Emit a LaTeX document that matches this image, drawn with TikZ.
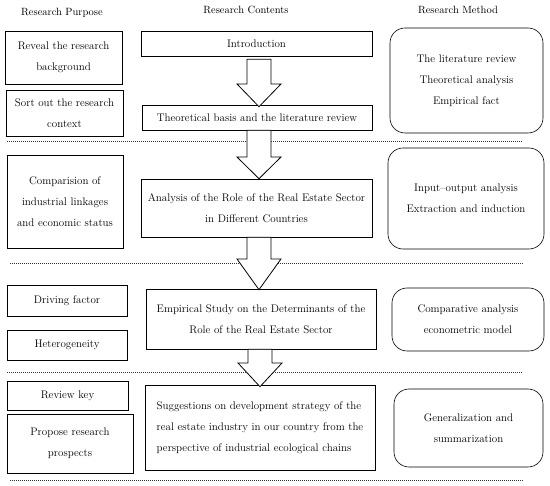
\documentclass[tikz,border=0pt]{standalone}
\usetikzlibrary{calc}
\begin{document}
\begin{tikzpicture}[x=1pt,y=-1pt,
  every node/.style={font=\fontsize{11}{21}\selectfont, text=black},
  pbox/.style={draw, line width=0.6pt, align=center, inner sep=0pt},
  cbox/.style={draw, line width=0.6pt, align=center, inner sep=0pt},
  mbox/.style={draw, line width=0.6pt, rounded corners=15pt, align=center, inner sep=0pt},
  head/.style={font=\fontsize{10.5}{13}\selectfont},
  sep/.style={line width=0.9pt, dash pattern=on 1pt off 1pt, black!80},
  blockarrow/.style={draw, line width=0.8pt, fill=white, line join=miter}
]
\useasboundingbox (0,0) rectangle (550,486);

% headers
\node[head] (h1) at (62,13) {Research Purpose};
\node[head] (h2) at (246,10) {Research Contents};
\node[head] (h3) at (458,10) {Research Method};

% purpose boxes
\node[pbox, minimum width=117pt, minimum height=53pt] (p1) at (63.5,57.5) {Reveal the research\\background};
\node[pbox, minimum width=117pt, minimum height=46pt] (p2) at (64.5,113) {Sort out the research\\context};
\node[pbox, minimum width=116pt, minimum height=93pt] (p3) at (65,201.5) {Comparision of\\industrial linkages\\and economic status};
\node[pbox, minimum width=120pt, minimum height=31pt] (p4) at (67,300.5) {Driving factor};
\node[pbox, minimum width=120pt, minimum height=30pt] (p5) at (67,345) {Heterogeneity};
\node[pbox, minimum width=121pt, minimum height=29pt] (p6) at (67.5,395.5) {Review key};
\node[pbox, minimum width=126pt, minimum height=59pt] (p7) at (70,443.5) {Propose research\\prospects};

% content boxes
\node[cbox, minimum width=231pt, minimum height=25pt] (c1) at (256.5,43.5) {Introduction};
\node[cbox, minimum width=230pt, minimum height=25pt] (c2) at (257,117.5) {Theoretical basis and the literature review};
\node[cbox, minimum width=231pt, minimum height=58pt] (c3) at (256.5,208) {Analysis of the Role of the Real Estate Sector\\in Different Countries};
\node[cbox, minimum width=230pt, minimum height=60pt] (c4) at (261,319) {Empirical Study on the Determinants of the\\Role of the Real Estate Sector};
\node[cbox, minimum width=230pt, minimum height=85pt, align=left] (c5) at (260,427.5) {Suggestions on development strategy of the\\real estate industry in our country from the\\perspective of industrial ecological chains};

% method boxes
\node[mbox, minimum width=153pt, minimum height=105pt] (m1) at (466.5,80.5) {The literature review\\Theoretical analysis\\Empirical fact};
\node[mbox, minimum width=156pt, minimum height=101pt] (m2) at (466,198.5) {Input--output analysis\\Extraction and induction};
\node[mbox, minimum width=152pt, minimum height=63pt] (m3) at (468,319.5) {Comparative analysis\\econometric model};
\node[mbox, minimum width=149pt, minimum height=78pt] (m4) at (468.5,428) {Generalization and\\summarization};

% separators
\coordinate (s1a) at (7,141);   \coordinate (s1b) at (523,141);
\coordinate (s2a) at (10,263);  \coordinate (s2b) at (523,263);
\coordinate (s3a) at (7,372);   \coordinate (s3b) at (523,372);
\coordinate (s4a) at (10,480);  \coordinate (s4b) at (523,480);
\draw[sep] (s1a) -- (s1b);
\draw[sep] (s2a) -- (s2b);
\draw[sep] (s3a) -- (s3b);
\draw[sep] (s4a) -- (s4b);

% block arrows
\draw[blockarrow] let \p1=($(c1.south)+(0,3)$), \p2=(c2.north) in
  (247,\y1) -- (271,\y1) -- (271,84) -- (281,84) -- (259,\y2-2) -- (237,84) -- (247,84) -- cycle;
\draw[blockarrow] let \p1=(c2.south), \p2=(c3.north) in
  (247,\y1) -- (271,\y1) -- (271,157) -- (281,157) -- (259,\y2) -- (237,157) -- (247,157) -- cycle;
\draw[blockarrow] let \p1=(c3.south), \p2=(c4.north) in
  (247,\y1) -- (271,\y1) -- (271,259) -- (281,259) -- (259,\y2-1) -- (237,259) -- (247,259) -- cycle;
\draw[blockarrow] let \p1=(c4.south), \p2=(c5.north) in
  (248,\y1) -- (272,\y1) -- (272,363) -- (282,363) -- (260,\y2-2) -- (238,363) -- (248,363) -- cycle;
\end{tikzpicture}
\end{document}
